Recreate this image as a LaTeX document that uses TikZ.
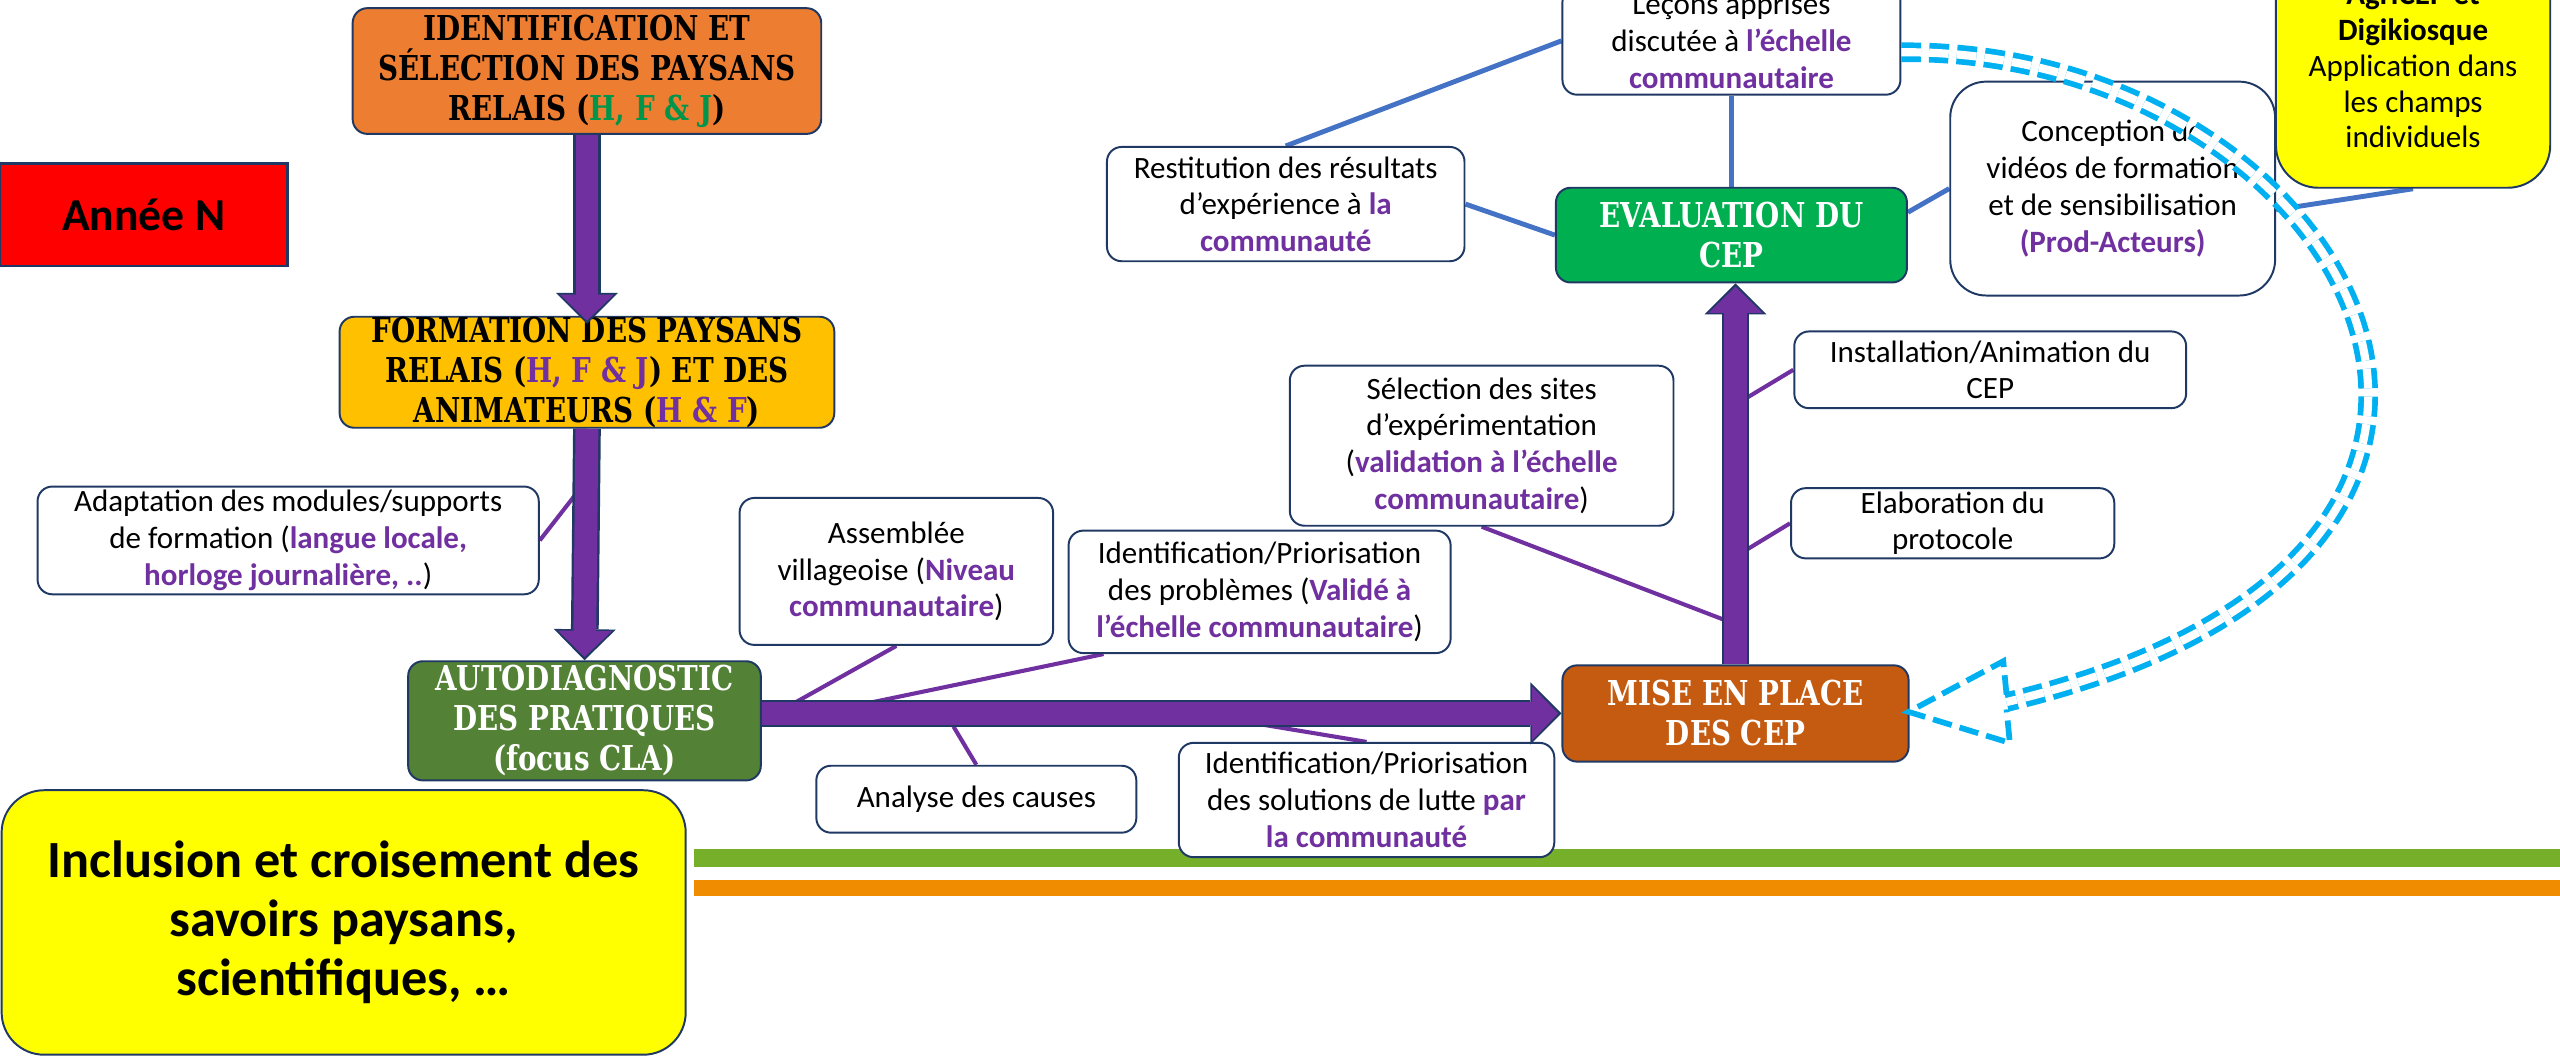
\documentclass[tikz,border=0pt]{standalone}
\usepackage{fontspec}
\setmainfont{Carlito}
\newfontfamily\titlefont[FakeStretch=0.9]{DejaVuSerifCondensed-Bold.ttf}
\usepackage{xcolor}
\usetikzlibrary{arrows.meta, backgrounds}

\definecolor{cepviolet}{HTML}{7030A0}
\definecolor{cepnavy}{HTML}{1F3864}
\definecolor{ceporange}{HTML}{ED7D31}
\definecolor{cepgold}{HTML}{FFC000}
\definecolor{cepolive}{HTML}{538135}
\definecolor{cepgreen}{HTML}{00B050}
\definecolor{ceprust}{HTML}{C55A11}
\definecolor{cepblue}{HTML}{4472C4}
\definecolor{cepcyan}{HTML}{00B0F0}
\definecolor{ceplime}{HTML}{76B02B}
\definecolor{cepamber}{HTML}{F08C00}
\definecolor{cepleaf}{HTML}{00954A}
\definecolor{cepyellow}{HTML}{FFFF00}
\definecolor{cepred}{HTML}{FF0000}

\newcommand{\mauve}[1]{{\color{cepviolet}\bfseries #1}}

\begin{document}
\begin{tikzpicture}[x=1pt, y=-1pt,
  smallbox/.style={draw=cepnavy, line width=1.2pt, fill=white, rounded corners=9pt,
    align=center, inner sep=0pt, font=\fontsize{19}{22.5}\selectfont},
  stagebox/.style={draw=cepnavy, line width=1.2pt, rounded corners=9pt, align=center,
    inner sep=0pt, font=\titlefont\fontsize{21}{24.5}\selectfont},
  bluelink/.style={draw=cepblue, line width=3pt},
  violetlink/.style={draw=cepviolet, line width=2.5pt},
  bigrim/.style={draw=cepnavy, line width=17pt, -{Triangle[width=38pt,length=19pt,line width=0pt]}},
  bigcore/.style={draw=cepviolet, line width=14pt, shorten >=2pt, -{Triangle[width=33pt,length=16pt,line width=0pt]}},
  recycle/.style={draw=cepcyan, line width=3.5pt, double=white, double distance=5pt, dash pattern=on 12pt off 5pt},
  recyclehead/.style={draw=cepcyan, line width=3.5pt, dash pattern=on 12pt off 5pt, line join=miter}]

\useasboundingbox (0, 0) rectangle (1568, 649);

% draw stages
\node[stagebox, fill=ceporange, minimum width=287pt, minimum height=77pt] (ident) at (359.5, 43.5)
  {IDENTIFICATION ET\\SÉLECTION DES PAYSANS\\RELAIS ({\color{cepleaf}H, F \& J})};
\node[draw=cepnavy, line width=1.5pt, fill=cepred, minimum width=176pt, minimum height=63pt,
  font=\bfseries\fontsize{28}{32}\selectfont] (annee) at (88, 131.5) {Année N};
\node[stagebox, fill=cepgold, minimum width=303pt, minimum height=68pt] (form) at (359.5, 228)
  {FORMATION DES PAYSANS\\RELAIS ({\color{cepviolet}H, F \& J}) ET DES\\ANIMATEURS ({\color{cepviolet}H \& F})};
\node[stagebox, fill=cepolive, text=white, minimum width=216pt, minimum height=73pt] (autodiag) at (358, 441.5)
  {AUTODIAGNOSTIC\\DES PRATIQUES\\(focus CLA)};
\node[stagebox, fill=ceprust, text=white, minimum width=212pt, minimum height=59pt] (mise) at (1063, 437)
  {MISE EN PLACE\\DES CEP};
\node[stagebox, fill=cepgreen, text=white, minimum width=215pt, minimum height=58pt] (eval) at (1060.5, 144)
  {EVALUATION DU\\CEP};

% draw steps
\node[smallbox, minimum width=307pt, minimum height=66pt] (adapt) at (176.5, 331)
  {Adaptation des modules/supports\\de formation (\mauve{langue locale,}\\\mauve{horloge journalière, ..})};
\node[smallbox, minimum width=192pt, minimum height=90pt] (assemb) at (549, 350)
  {Assemblée\\villageoise (\mauve{Niveau}\\\mauve{communautaire})};
\node[smallbox, minimum width=234pt, minimum height=75pt] (prob) at (771.5, 362.5)
  {Identification/Priorisation\\des problèmes (\mauve{Validé à}\\\mauve{l’échelle communautaire})};
\node[smallbox, minimum width=196pt, minimum height=41pt] (analyse) at (598, 489.5)
  {Analyse des causes};
\node[smallbox, minimum width=230pt, minimum height=70pt] (solut) at (837, 490)
  {Identification/Priorisation\\des solutions de lutte \mauve{par}\\\mauve{la communauté}};
\node[smallbox, minimum width=235pt, minimum height=98pt] (select) at (907.5, 273)
  {Sélection des sites\\d’expérimentation\\(\mauve{validation à l’échelle}\\\mauve{communautaire})};
\node[smallbox, minimum width=240pt, minimum height=47pt] (install) at (1219, 226.5)
  {Installation/Animation du\\CEP};
\node[smallbox, minimum width=198pt, minimum height=43pt] (elab) at (1196, 320.5)
  {Elaboration du\\protocole};

% draw evaluation outputs
\node[smallbox, minimum width=219pt, minimum height=70pt] (restit) at (787.5, 125)
  {Restitution des résultats\\d’expérience à \mauve{la}\\\mauve{communauté}};
\node[smallbox, minimum width=207pt, minimum height=66pt] (lecons) at (1060.5, 25)
  {Leçons apprises\\discutée à \mauve{l’échelle}\\\mauve{communautaire}};
\node[smallbox, rounded corners=22pt, minimum width=199pt, minimum height=131pt] (concep) at (1294, 115.5)
  {Conception de\\vidéos de formation\\et de sensibilisation\\\mauve{(Prod-Acteurs)}};
\node[smallbox, fill=cepyellow, rounded corners=26pt, minimum width=168pt, minimum height=150pt,
  font=\fontsize{19}{22}\selectfont] (agricep) at (1478, 40)
  {\textbf{AgriCEP et}\\\textbf{Digikiosque}\\Application dans\\les champs\\individuels};

% draw joining points on the big arrows
\coordinate (adaptjoin) at (354, 301);
\coordinate (assembjoin) at (484, 432);
\coordinate (probjoin) at (530, 431);
\coordinate (analysejoin) at (584, 445);
\coordinate (solutjoin) at (690, 430);
\coordinate (selectjoin) at (1057, 380);
\coordinate (installjoin) at (1066, 246);
\coordinate (elabjoin) at (1066, 339);

\begin{scope}[on background layer]
% draw ground lines
\fill[ceplime] (425, 520) rectangle (1568, 531);
\fill[cepamber] (425, 539) rectangle (1568, 549);

% draw links to the steps
\draw[violetlink] (adaptjoin) -- (adapt.east);
\draw[violetlink] (assembjoin) -- (assemb.south);
\draw[violetlink] (probjoin) -- ([xshift=22pt]prob.south west);
\draw[violetlink] (analysejoin) -- (analyse.north);
\draw[violetlink] (solutjoin) -- (solut.north);
\draw[violetlink] (selectjoin) -- (select.south);
\draw[violetlink] (installjoin) -- (install.west);
\draw[violetlink] (elabjoin) -- (elab.west);

% draw links of the evaluation
\draw[bluelink] (restit.north) -- (lecons.west);
\draw[bluelink] (restit.east) -- (eval.west);
\draw[bluelink] (lecons.south) -- (eval.north);
\draw[bluelink] ([yshift=14pt]eval.east) -- (concep.west);
\draw[bluelink] (agricep.south) -- ([yshift=-13pt]concep.east);
\end{scope}

% draw big arrows
\draw[bigrim, shorten >=-5pt] (ident.south) -- (form.north);
\draw[bigcore, shorten >=-3pt] (ident.south) -- (form.north);
\draw[bigrim] (form.south) -- (autodiag.north);
\draw[bigcore] (form.south) -- (autodiag.north);
\draw[bigrim] (autodiag.east |- mise.west) -- (mise.west);
\draw[bigcore] (autodiag.east |- mise.west) -- (mise.west);
\draw[bigrim] (mise.north) -- (mise.north |- eval.south);
\draw[bigcore] (mise.north) -- (mise.north |- eval.south);

% draw knowledge box
\node[draw=cepnavy, line width=1.2pt, fill=cepyellow, rounded corners=26pt, minimum width=419pt,
  minimum height=162pt, align=center, font=\bfseries\fontsize{32}{36}\selectfont] (inclusion) at (210.5, 565)
  {Inclusion et croisement des\\savoirs paysans,\\scientifiques, …};

% draw loop back to the next year
\coordinate (loopend) at (1229, 430);
\coordinate (headup) at (1227, 405);
\coordinate (headtip) at (1169, 436);
\coordinate (headlow) at (1231, 455);
\draw[recycle] ([yshift=-7pt]lecons.east) .. controls (1440, 30) and (1610, 340) .. (loopend);
\draw[recyclehead] ([yshift=4.5pt]loopend) -- (headup) -- (headtip) -- (headlow) -- ([yshift=-4.5pt]loopend);

\end{tikzpicture}
\end{document}
